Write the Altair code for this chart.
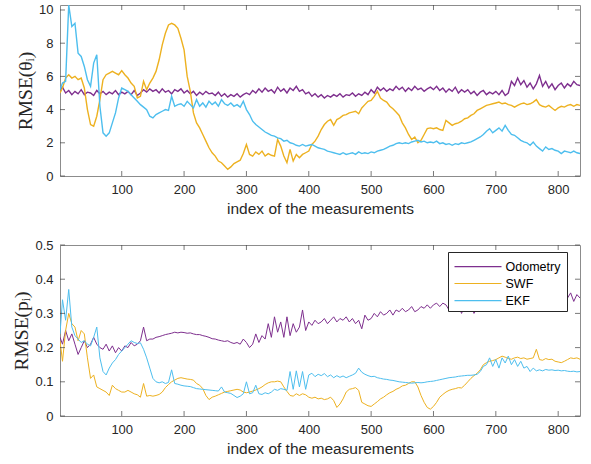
import altair as alt
import pandas as pd

SERIES = ["Odometry", "SWF", "EKF"]
COLORS = ["#7E2F8E", "#EDB120", "#4DBEEE"]

# measurement index (every 5th sample, starting at 1)
idx = [max(i, 1) for i in range(0, 836, 5)]

# RMSE of the heading theta_i
theta_odometry = [
    5.2, 5.35, 5.0, 5.15, 4.9, 5.1, 4.95, 5.2, 4.9, 5.05,
    5.0, 4.85, 5.15, 4.95, 5.1, 4.9, 5.05, 4.95, 5.15, 4.9,
    5.05, 4.95, 5.1, 4.9, 5.15, 4.85, 5.0, 5.2, 5.05, 5.25,
    5.1, 5.2, 5.0, 5.25, 5.05, 5.15, 4.95, 5.2, 5.1, 5.25,
    5.0, 5.15, 4.95, 5.1, 4.85, 5.05, 4.9, 5.1, 4.95, 5.0,
    4.85, 5.05, 4.8, 4.95, 4.75, 4.9, 4.8, 4.95, 4.75, 4.9,
    5.0, 4.9, 5.15, 5.0, 5.25, 5.05, 5.3, 5.1, 5.2, 5.0,
    5.35, 5.1, 5.25, 5.0, 5.3, 5.15, 5.4, 5.1, 5.2, 4.95,
    5.05, 4.8, 4.95, 4.75, 4.9, 4.7, 4.85, 4.75, 4.9, 4.8,
    4.95, 4.75, 4.9, 4.85, 5.0, 4.8, 4.95, 4.85, 5.05, 4.9,
    5.2, 5.0, 5.35, 5.15, 5.3, 5.1, 5.25, 5.15, 5.4, 5.2,
    5.35, 5.1, 5.3, 5.15, 5.4, 5.2, 5.3, 5.1, 5.25, 5.35,
    5.2, 5.4, 5.15, 5.3, 5.05, 5.25, 5.1, 5.35, 5.0, 5.2,
    5.05, 5.2, 4.95, 5.1, 4.85, 5.05, 5.15, 4.9, 5.05, 4.95,
    5.1, 4.9, 5.15, 4.85, 5.0, 5.7, 5.45, 5.9, 5.5, 5.75,
    5.35, 5.6, 5.25, 5.55, 6.05, 5.4, 5.7, 5.3, 5.55, 5.2,
    5.45, 5.6, 5.3, 5.55, 5.4, 5.7, 5.5, 5.45,
]
theta_swf = [
    5.0, 5.3, 5.9, 6.1, 5.9, 6.0, 5.8, 5.9, 5.3, 4.0,
    3.1, 3.0, 3.6, 4.6, 5.8, 6.1, 6.2, 6.3, 6.2, 6.1,
    6.35, 6.1, 5.9, 5.6, 5.4, 4.7, 4.8, 5.7, 5.2, 5.6,
    5.9, 6.3, 7.0, 7.9, 8.6, 9.1, 9.2, 9.1, 8.9, 8.3,
    7.6, 6.0, 5.1, 3.8, 3.2, 2.9, 2.5, 2.1, 1.7, 1.4,
    1.2, 0.9, 0.8, 0.6, 0.4, 0.55, 0.75, 0.85, 0.95, 1.35,
    1.9, 1.3, 1.2, 1.45, 1.3, 1.5, 1.2, 1.35, 1.25, 1.2,
    2.2, 1.8, 1.2, 0.8, 1.6, 0.9, 1.3, 1.1, 1.3, 1.4,
    1.5, 1.9, 2.1, 2.4, 2.8, 3.1, 3.3, 3.4, 3.05, 3.4,
    3.5, 3.65, 3.7, 3.8, 3.85, 3.9, 3.75, 4.1, 4.3, 4.5,
    4.55, 4.8, 5.1, 4.7, 4.55, 4.45, 4.2, 4.05, 3.85, 3.65,
    3.2, 2.9, 2.5, 2.2, 2.35, 2.0, 2.15, 2.5, 2.85, 2.9,
    2.85, 2.9, 2.8, 2.75, 3.35, 3.2, 3.05, 3.15, 3.2, 3.3,
    3.45, 3.5, 3.65, 3.75, 3.95, 4.05, 4.15, 4.25, 4.3, 4.35,
    4.4, 4.45, 4.35, 4.4, 4.3, 4.25, 4.15, 4.25, 4.35, 4.4,
    4.3, 4.35, 4.45, 4.6, 4.3, 4.2, 4.15, 4.25, 4.1, 3.95,
    4.1, 4.2, 4.15, 4.25, 4.3, 4.2, 4.3, 4.25,
]
theta_ekf = [
    5.2, 5.6, 5.7, 10.3, 9.0, 9.2, 7.4, 7.2, 6.6, 5.8,
    5.4, 6.8, 7.3, 4.2, 2.6, 2.4, 2.6, 3.2, 3.8, 4.7,
    5.3, 5.2, 5.1, 4.9, 4.7, 4.5, 4.3, 4.15, 4.0, 3.6,
    3.5, 3.7, 3.8, 3.9, 4.0, 3.95, 4.8, 4.2, 4.3, 4.35,
    4.2, 4.5, 4.3, 4.1, 4.6, 4.2, 4.4, 4.15, 4.5, 4.3,
    4.45, 4.2, 4.6, 4.35, 4.25, 4.4, 4.2, 4.3, 4.15, 4.5,
    4.0, 3.7, 3.3, 3.1, 2.95, 2.8, 2.65, 2.55, 2.45, 2.4,
    2.3, 2.25, 2.1, 2.15, 2.0, 1.95, 1.85, 1.8, 1.9, 1.8,
    1.85, 1.9, 1.8, 1.7, 1.65, 1.6, 1.5, 1.45, 1.4, 1.35,
    1.3, 1.4, 1.3, 1.35, 1.4, 1.3, 1.45, 1.35, 1.4, 1.35,
    1.45, 1.4, 1.5, 1.55, 1.6, 1.7, 1.8, 1.85, 1.95, 2.0,
    1.95, 2.0, 1.95, 2.05, 2.1, 2.15, 2.05, 2.1, 2.0, 2.05,
    2.0, 2.1, 1.95, 2.0, 1.9, 1.95, 1.85, 1.95, 1.9, 2.0,
    1.95, 2.0, 2.05, 2.15, 2.25, 2.35, 2.5, 2.7, 2.85, 2.6,
    2.75, 2.9, 2.7, 3.05, 2.75, 2.5, 2.45, 2.3, 2.15, 2.05,
    2.0, 1.85, 2.05, 1.8, 1.65, 1.5, 1.75, 1.6, 1.65, 1.55,
    1.5, 1.35, 1.5, 1.45, 1.4, 1.5, 1.4, 1.35,
]

# RMSE of the position p_i
pos_odometry = [
    0.23, 0.21, 0.25, 0.22, 0.24, 0.21, 0.18, 0.2, 0.22, 0.2,
    0.21, 0.23, 0.21, 0.2, 0.195, 0.21, 0.19, 0.205, 0.185, 0.2,
    0.19, 0.205, 0.2, 0.215, 0.205, 0.21, 0.22, 0.26, 0.22, 0.225,
    0.225, 0.23, 0.232, 0.235, 0.238, 0.24, 0.242, 0.245, 0.243, 0.245,
    0.244, 0.242, 0.243, 0.24, 0.238, 0.238, 0.235, 0.233, 0.23, 0.226,
    0.225, 0.222, 0.22, 0.218, 0.22, 0.215, 0.212, 0.215, 0.21, 0.225,
    0.215, 0.2, 0.21, 0.24, 0.215, 0.235, 0.225, 0.27, 0.23, 0.29,
    0.245, 0.275, 0.23, 0.29, 0.235, 0.27, 0.245, 0.26, 0.31, 0.25,
    0.275, 0.265, 0.28, 0.27, 0.275, 0.285, 0.27, 0.28, 0.29, 0.275,
    0.285, 0.28, 0.29, 0.275, 0.285, 0.27, 0.28, 0.255, 0.295, 0.28,
    0.285, 0.3, 0.29, 0.305, 0.295, 0.3, 0.31, 0.295, 0.31, 0.305,
    0.315, 0.305, 0.31, 0.32, 0.305, 0.31, 0.32, 0.315, 0.325, 0.315,
    0.325, 0.33, 0.32, 0.33, 0.325, 0.31, 0.33, 0.315, 0.325, 0.3,
    0.32, 0.31, 0.325, 0.3, 0.315, 0.325, 0.31, 0.32, 0.305, 0.32,
    0.33, 0.31, 0.325, 0.315, 0.33, 0.32, 0.335, 0.31, 0.325, 0.315,
    0.33, 0.32, 0.335, 0.31, 0.325, 0.33, 0.315, 0.33, 0.325, 0.34,
    0.33, 0.335, 0.32, 0.345, 0.36, 0.335, 0.355, 0.345,
]
pos_swf = [
    0.22, 0.16, 0.25, 0.3, 0.27, 0.26, 0.22, 0.25, 0.24, 0.17,
    0.11, 0.12, 0.085, 0.08, 0.075, 0.07, 0.06, 0.09, 0.08, 0.075,
    0.07, 0.07, 0.075, 0.07, 0.065, 0.062, 0.055, 0.095, 0.058, 0.06,
    0.058, 0.06, 0.063, 0.07, 0.083, 0.092, 0.1, 0.105, 0.11, 0.112,
    0.11, 0.108, 0.107, 0.105, 0.095, 0.09, 0.08, 0.06, 0.048, 0.055,
    0.058, 0.062, 0.066, 0.07, 0.072, 0.074, 0.076, 0.078, 0.076, 0.07,
    0.068, 0.07, 0.073, 0.076, 0.08, 0.085, 0.092, 0.097, 0.1, 0.1,
    0.102, 0.1, 0.085, 0.072, 0.06, 0.058, 0.065, 0.06, 0.065, 0.062,
    0.055, 0.052, 0.055, 0.05, 0.052, 0.048, 0.05, 0.055, 0.045, 0.025,
    0.035, 0.05, 0.07, 0.078, 0.08, 0.083, 0.075, 0.04, 0.035, 0.03,
    0.028, 0.035, 0.042, 0.05, 0.055, 0.062, 0.068, 0.072, 0.078, 0.082,
    0.088, 0.09, 0.095, 0.1, 0.1, 0.085, 0.06, 0.04, 0.025, 0.02,
    0.028, 0.04, 0.055, 0.063, 0.07, 0.075, 0.078, 0.08, 0.083, 0.082,
    0.09, 0.1, 0.11, 0.118, 0.125, 0.135, 0.15, 0.156, 0.16, 0.162,
    0.165, 0.17, 0.175, 0.172, 0.168, 0.166, 0.17, 0.172, 0.168, 0.17,
    0.166, 0.168, 0.17, 0.195, 0.165, 0.163, 0.168, 0.165, 0.166, 0.16,
    0.158, 0.156, 0.16, 0.165, 0.17, 0.168, 0.17, 0.166,
]
pos_ekf = [
    0.24, 0.34, 0.28, 0.37, 0.26, 0.235, 0.225, 0.215, 0.22, 0.21,
    0.205, 0.23, 0.26, 0.17, 0.13, 0.12, 0.14, 0.155, 0.165, 0.18,
    0.19, 0.2, 0.21, 0.22, 0.215, 0.212, 0.214, 0.195, 0.17, 0.14,
    0.11, 0.1, 0.097, 0.1, 0.095, 0.098, 0.135, 0.095, 0.093, 0.09,
    0.088, 0.087, 0.086, 0.083, 0.08, 0.079, 0.078, 0.077, 0.076, 0.075,
    0.074, 0.073, 0.085, 0.07, 0.068, 0.066, 0.06, 0.054, 0.058, 0.065,
    0.1, 0.065, 0.068, 0.09, 0.065, 0.063, 0.068, 0.065, 0.07, 0.078,
    0.075, 0.08, 0.078, 0.075, 0.13, 0.078, 0.132, 0.085, 0.13, 0.078,
    0.12, 0.125, 0.115, 0.122, 0.118, 0.124, 0.115, 0.12, 0.112, 0.118,
    0.113, 0.117, 0.112, 0.116, 0.12, 0.125, 0.14, 0.128, 0.122, 0.118,
    0.115, 0.116, 0.112, 0.11, 0.108, 0.107, 0.105, 0.104, 0.102, 0.1,
    0.099, 0.098, 0.097, 0.096, 0.097, 0.098, 0.097, 0.098, 0.1, 0.101,
    0.102, 0.104, 0.106, 0.108, 0.11, 0.112, 0.113, 0.114, 0.116, 0.117,
    0.118, 0.119, 0.119, 0.12, 0.122, 0.13, 0.145, 0.15, 0.17, 0.145,
    0.165, 0.14, 0.17, 0.155, 0.175, 0.15, 0.165, 0.145, 0.16, 0.14,
    0.145, 0.13, 0.14, 0.132, 0.135, 0.132, 0.136, 0.134, 0.135, 0.133,
    0.134, 0.132, 0.133, 0.131, 0.13, 0.131, 0.129, 0.13,
]

x_ticks = [100, 200, 300, 400, 500, 600, 700, 800]
theta_ticks = [0, 2, 4, 6, 8, 10]
pos_ticks = [0, 0.1, 0.2, 0.3, 0.4, 0.5]
X_TITLE = "index of the measurements"

W, H = 520, 171
TEXT = "#262626"
TICK = "#404040"
SANS = "Liberation Sans"
SERIF = "Liberation Serif"


def legend_layers(cs):
    # boxed legend in the upper right of the panel
    box = alt.Chart(pd.DataFrame({"series": ["box"]})).mark_rect(
        fill="white", stroke="#262626", strokeWidth=1
    ).encode(x=alt.value(388.5), x2=alt.value(507.5),
             y=alt.value(7.5), y2=alt.value(66.5))
    out = [box]
    for name, ypos in zip(SERIES, [21.7, 38.5, 55.7]):
        d = pd.DataFrame({"series": [name]})
        out.append(
            alt.Chart(d).mark_rule(strokeWidth=1.2).encode(
                x=alt.value(394.5), x2=alt.value(441.5), y=alt.value(ypos),
                color=alt.Color("series:N", scale=cs, legend=None))
        )
        out.append(
            alt.Chart(d).mark_text(align="left", baseline="middle", font=SANS,
                                   fontSize=12.5, color="#000000").encode(
                x=alt.value(445.5), y=alt.value(ypos + 0.5), text="series:N")
        )
    return out


def panel(values, y_domain, y_ticks, y_title, y_format, with_legend, line_width):
    xs = alt.Scale(domain=[1, 835], nice=False, zero=False)
    ys = alt.Scale(domain=y_domain, nice=False, zero=False)
    cs = alt.Scale(domain=SERIES, range=COLORS)
    x_axis = alt.Axis(values=x_ticks, grid=False, domain=False, ticks=False,
                      labelFont=SANS, labelFontSize=13, labelColor=TEXT,
                      labelPadding=7, titleFont=SANS, titleFontSize=15.5,
                      titleFontWeight="normal", titleColor=TEXT, titlePadding=5)
    y_axis = alt.Axis(values=y_ticks, grid=False, domain=False, ticks=False,
                      format=y_format, labelFont=SANS, labelFontSize=13,
                      labelColor=TEXT, labelPadding=7, titleFont=SERIF,
                      titleFontSize=19.5, titleFontWeight="normal",
                      titleColor=TEXT, titlePadding=3)

    def xenc(field):
        return alt.X(field, scale=xs, axis=x_axis, title=X_TITLE)

    def yenc(field):
        return alt.Y(field, scale=ys, axis=y_axis, title=y_title)

    layers = []
    for name, vals in zip(SERIES, values):
        df = pd.DataFrame({"k": idx, "v": vals, "series": name})
        layers.append(
            alt.Chart(df).mark_line(strokeWidth=line_width, clip=True).encode(
                x=xenc("k:Q"), y=yenc("v:Q"),
                color=alt.Color("series:N", scale=cs, legend=None),
            )
        )
    # inward ticks on all four sides of the box
    xt = pd.DataFrame({"k": x_ticks})
    yt = pd.DataFrame({"v": y_ticks})
    for ypos in (H - 2.5, 2.5):
        layers.append(
            alt.Chart(xt).mark_tick(size=5, thickness=1, color=TICK, orient="vertical")
            .encode(x=xenc("k:Q"), y=alt.value(ypos))
        )
    for xpos in (2.5, W - 2.5):
        layers.append(
            alt.Chart(yt).mark_tick(size=5, thickness=1, color=TICK, orient="horizontal")
            .encode(y=yenc("v:Q"), x=alt.value(xpos))
        )
    if with_legend:
        layers.extend(legend_layers(cs))
    return alt.layer(*layers).properties(width=W, height=H)


top = panel([theta_odometry, theta_swf, theta_ekf], [0, 10.3], theta_ticks,
            "RMSE(θᵢ)", "d", False, 1.4)
bottom = panel([pos_odometry, pos_swf, pos_ekf], [0, 0.5], pos_ticks,
               "RMSE(pᵢ)", "~g", True, 1.0)

chart = (
    alt.vconcat(top, bottom, spacing=21)
    .properties(padding={"left": 11, "top": 3, "right": 5, "bottom": 5},
                background="white")
    .configure_view(stroke="#8c8c8c", strokeWidth=1)
)

chart.save("out.html", embed_options={"renderer": "svg", "actions": False})
